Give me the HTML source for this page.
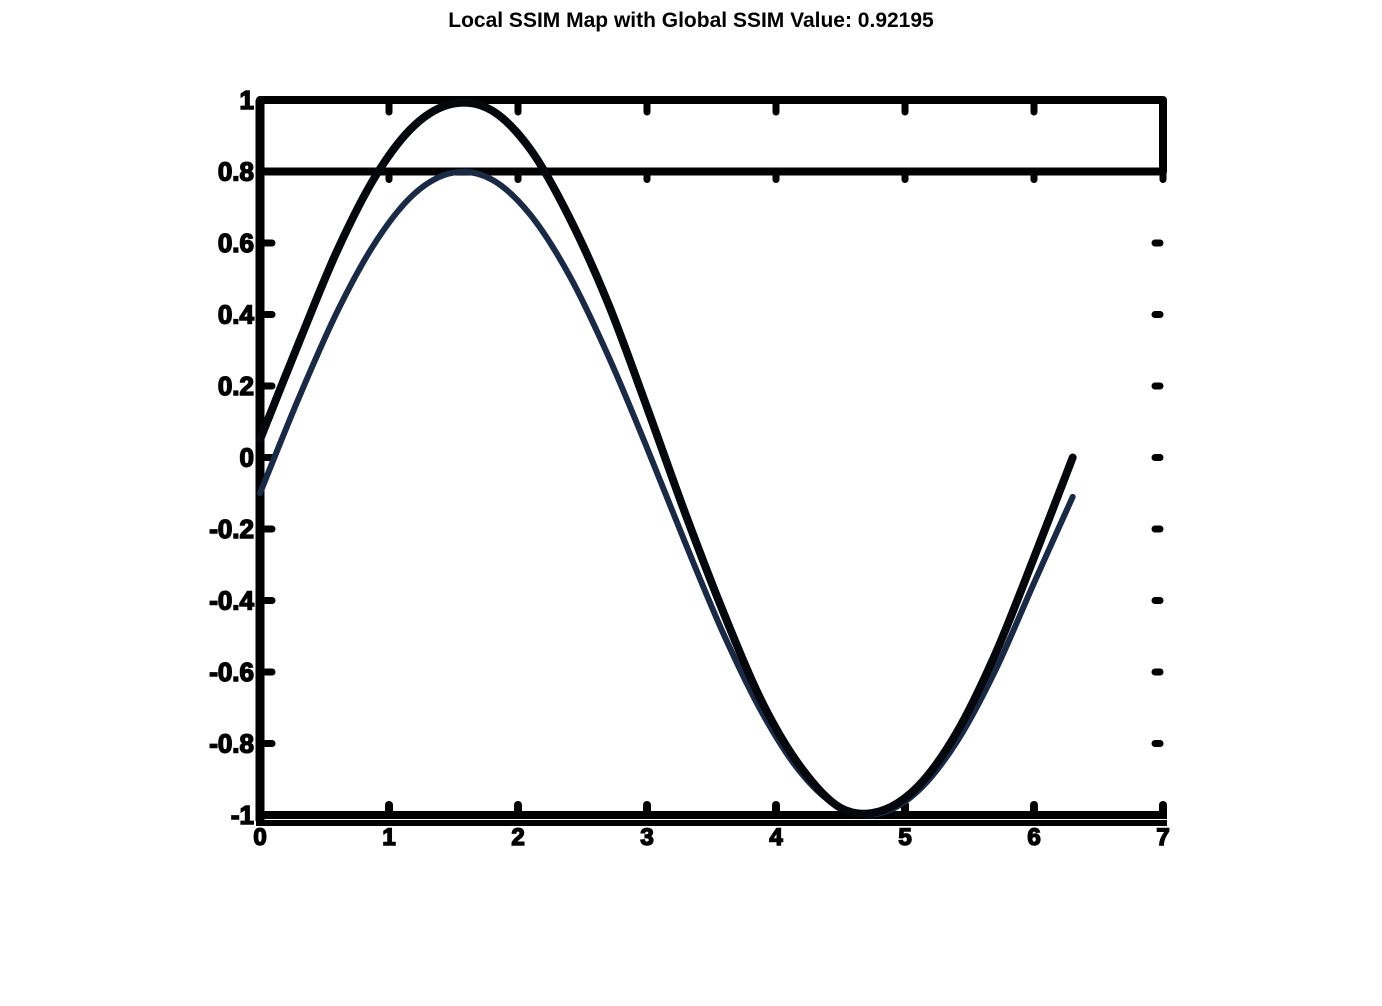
<!DOCTYPE html>
<html><head><meta charset="utf-8"><style>
body{margin:0;background:#fff;width:1382px;height:1006px;overflow:hidden}
svg{display:block}
text{font-family:"Liberation Sans",sans-serif;font-weight:bold}
</style></head><body>
<svg id="chart" width="1382" height="1006">
<text x="691" y="27" text-anchor="middle" font-size="21">Local SSIM Map with Global SSIM Value: 0.92195</text>
<g id="axes"></g>
<g id="series"></g>
</svg>
<script>
const xTicks=[0,1,2,3,4,5,6,7];
const yTicks=[1,0.8,0.6,0.4,0.2,0,-0.2,-0.4,-0.6,-0.8,-1];
const yTickLabels=["1","0.8","0.6","0.4","0.2","0","-0.2","-0.4","-0.6","-0.8","-1"];
const xValues=[0,0.3,0.6,0.9,1.2,1.5,1.8,2.1,2.4,2.7,3.0,3.3,3.6,3.9,4.2,4.5,4.8,5.1,5.4,5.7,6.0,6.3];
const seriesUpper=[0.05,0.32,0.58,0.79,0.93,0.99,0.97,0.86,0.67,0.43,0.14,-0.16,-0.44,-0.69,-0.87,-0.98,-0.99,-0.92,-0.77,-0.55,-0.28,0.0];
const seriesLower=[-0.1,0.166,0.409,0.605,0.739,0.797,0.777,0.677,0.508,0.284,0.027,-0.242,-0.499,-0.719,-0.885,-0.98,-0.996,-0.933,-0.796,-0.596,-0.351,-0.11];
const X0=260,X1=1163,Y0=100,Y1=815;
const sx=v=>X0+(v-0)/(7-0)*(X1-X0);
const sy=v=>Y1-(v+1)/2*(Y1-Y0);
const NS="http://www.w3.org/2000/svg";
function mk(tag,attrs,parent){const e=document.createElementNS(NS,tag);for(const k in attrs)e.setAttribute(k,attrs[k]);parent.appendChild(e);return e;}
const axes=document.getElementById('axes');
const ser=document.getElementById('series');
let el;
el=mk('rect',{x:X0,y:Y0,width:X1-X0,height:sy(0.8)-Y0,fill:'none',stroke:'#000','stroke-width':8,'stroke-linejoin':'round'},axes);


el=mk('line',{x1:X0,y1:Y0,x2:X0,y2:Y1+6,stroke:'#000','stroke-width':9},axes);


el=mk('line',{x1:X0-4,y1:Y1,x2:X1+4,y2:Y1,stroke:'#000','stroke-width':8},axes);


el=mk('line',{x1:X0-4,y1:Y1+8,x2:X1+4,y2:Y1+8,stroke:'#000','stroke-width':6},axes);


xTicks.forEach((t,i)=>{
  const x=sx(t);
  let tk=mk('line',{x1:x,y1:Y0,x2:x,y2:Y0+12,stroke:'#000','stroke-width':7,'stroke-linecap':'round'},axes);
  
  
  let tk2=mk('line',{x1:x,y1:sy(0.8),x2:x,y2:sy(0.8)+8,stroke:'#000','stroke-width':7,'stroke-linecap':'round'},axes);
  
  
  let tk3=mk('line',{x1:x,y1:Y1-10,x2:x,y2:Y1,stroke:'#000','stroke-width':8,'stroke-linecap':'round'},axes);
  
  
  let tl=mk('text',{x:x,y:Y1+30,'text-anchor':'middle','font-size':24,stroke:'#000','stroke-width':1.5},axes);
  tl.textContent=String(t);
  
  
});
yTicks.forEach((t,i)=>{
  const y=sy(t);
  let tk=mk('line',{x1:X0,y1:y,x2:X0+12,y2:y,stroke:'#000','stroke-width':7,'stroke-linecap':'round'},axes);
  
  
  if(t<0.8&&t>-1){
    let d=mk('line',{x1:1155,y1:y,x2:1160,y2:y,stroke:'#000','stroke-width':7,'stroke-linecap':'round'},axes);
    
    
  }
  let tl=mk('text',{x:X0-6,y:y+9,'text-anchor':'end','font-size':26,stroke:'#000','stroke-width':1.5},axes);
  tl.textContent=yTickLabels[i];
  
  
});
function path(xs,ys){
  const p=xs.map((v,i)=>[sx(v),sy(ys[i])]);
  let d=`M${p[0][0]},${p[0][1]}`;
  for(let i=0;i<p.length-1;i++){
    const a=p[Math.max(0,i-1)],b=p[i],c=p[i+1],e=p[Math.min(p.length-1,i+2)];
    const c1=[b[0]+(c[0]-a[0])/6,b[1]+(c[1]-a[1])/6],c2=[c[0]-(e[0]-b[0])/6,c[1]-(e[1]-b[1])/6];
    d+=` C${c1[0]},${c1[1]} ${c2[0]},${c2[1]} ${c[0]},${c[1]}`;
  }
  return d;
}
el=mk('path',{d:path(xValues,seriesLower),fill:'none',stroke:'#1a2a44','stroke-width':6,'stroke-linecap':'round'},ser);


el=mk('path',{d:path(xValues,seriesUpper),fill:'none',stroke:'#05070d','stroke-width':8,'stroke-linecap':'round'},ser);


</script>
</body></html>
